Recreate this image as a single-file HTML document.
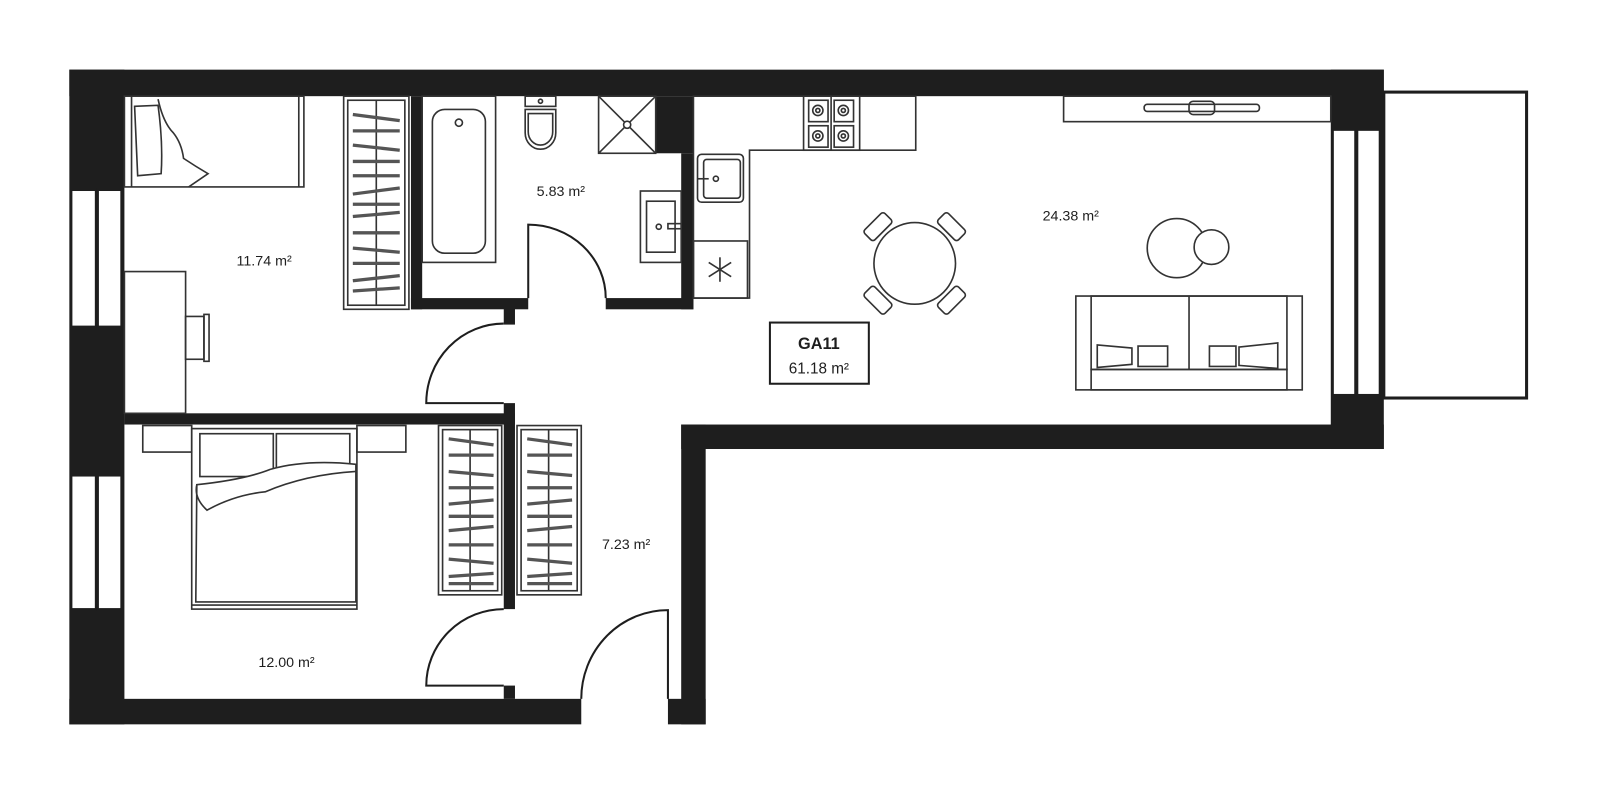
<!DOCTYPE html>
<html><head><meta charset="utf-8"><style>html,body{margin:0;padding:0;background:#fff}svg{display:block}</style></head>
<body>
<svg width="1600" height="794" viewBox="0 0 1569 778" xmlns="http://www.w3.org/2000/svg" font-family="Liberation Sans, sans-serif">
<rect width="1569" height="778" fill="#fff"/>
<g fill="#1e1e1e">
<rect x="68" y="68" width="1289" height="26"/>
<rect x="68" y="68" width="54" height="642"/>
<rect x="68" y="685" width="502" height="25"/>
<rect x="655" y="685" width="37" height="25"/>
<rect x="668" y="416" width="24" height="294"/>
<rect x="668" y="416" width="689" height="24"/>
<rect x="1305" y="68" width="52" height="372"/>
<rect x="122" y="405" width="383" height="11"/>
<rect x="494" y="300" width="11" height="18"/>
<rect x="494" y="395" width="11" height="202"/>
<rect x="494" y="672" width="11" height="13"/>
<rect x="403" y="292" width="115" height="11"/>
<rect x="594" y="292" width="86" height="11"/>
<rect x="403" y="94" width="11" height="209"/>
<rect x="668" y="150" width="12" height="153"/>
<rect x="643" y="94" width="37" height="56"/>
</g>
<!-- windows -->
<g fill="#fff" stroke="#1e1e1e" stroke-width="2">
<rect x="70" y="186" width="24" height="134"/><rect x="96" y="186" width="23" height="134"/>
<rect x="70" y="466" width="24" height="131"/><rect x="96" y="466" width="23" height="131"/>
<rect x="1307" y="127" width="22" height="260"/><rect x="1331" y="127" width="22" height="260"/>
</g>
<rect x="1357" y="90" width="140" height="300" fill="none" stroke="#1e1e1e" stroke-width="3"/>
<g fill="none" stroke="#1e1e1e" stroke-width="2">
<!-- doors -->
<path d="M518,292 V220 A76,72 0 0 1 594,292"/>
<path d="M494,395 H418 A76,78 0 0 1 494,317"/>
<path d="M494,672 H418 A76,75 0 0 1 494,597"/>
<path d="M655,685 V598 A85,87 0 0 0 570,685"/>
</g>
<g fill="none" stroke="#333" stroke-width="1.6">
<!-- bed 1 -->
<rect x="122" y="94" width="176" height="89"/>
<line x1="129" y1="94" x2="129" y2="183"/><line x1="293" y1="94" x2="293" y2="183"/>
<path d="M132,104 L155,103 Q160,140 158,170 L135,172 Z"/>
<path d="M155,97 Q160,120 170,130 Q178,140 180,155 Q192,163 204,170 L185,183"/>
<!-- desk -->
<rect x="122" y="266" width="60" height="139"/>
<rect x="182" y="310" width="18" height="42"/><rect x="200" y="308" width="5" height="46"/>
<!-- bath -->
<rect x="414" y="94" width="72" height="163"/>
<rect x="424" y="107" width="52" height="141" rx="12"/>
<circle cx="450" cy="120" r="3.5"/>
<!-- toilet -->
<rect x="515" y="94" width="30" height="10"/>
<circle cx="530" cy="99" r="2"/>
<path d="M515,107 H545 V130 A15,16 0 0 1 515,130 Z"/>
<path d="M518,111 H542 V129 A12,13 0 0 1 518,129 Z"/>
<!-- shower -->
<rect x="587" y="94" width="56" height="56"/>
<line x1="587" y1="94" x2="643" y2="150"/><line x1="643" y1="94" x2="587" y2="150"/>
<circle cx="615" cy="122" r="3.5" fill="#fff"/>
<!-- basin -->
<rect x="628" y="187" width="40" height="70"/>
<rect x="634" y="197" width="28" height="50"/>
<circle cx="646" cy="222" r="2.5"/><rect x="655" y="219" width="13" height="5"/>
<!-- kitchen -->
<path d="M680,94 H898 V147 H735 V292 H680 Z"/>
<rect x="788" y="94" width="55" height="53"/>
<line x1="815" y1="94" x2="815" y2="147"/>
<rect x="793" y="98" width="19" height="21"/><rect x="818" y="98" width="19" height="21"/>
<rect x="793" y="123" width="19" height="21"/><rect x="818" y="123" width="19" height="21"/>
<circle cx="802" cy="108" r="5"/><circle cx="827" cy="108" r="5"/><circle cx="802" cy="133" r="5"/><circle cx="827" cy="133" r="5"/>
<circle cx="802" cy="108" r="2"/><circle cx="827" cy="108" r="2"/><circle cx="802" cy="133" r="2"/><circle cx="827" cy="133" r="2"/>
<rect x="684" y="151" width="45" height="47" rx="4"/>
<rect x="690" y="156" width="36" height="38" rx="3"/>
<circle cx="702" cy="175" r="2.5"/><line x1="684" y1="175" x2="695" y2="175"/>
<rect x="680" y="236" width="53" height="56"/>
<g transform="translate(706,264)"><line x1="0" y1="-12" x2="0" y2="12"/><line x1="-11" y1="-7" x2="11" y2="7"/><line x1="-11" y1="7" x2="11" y2="-7"/></g>
<!-- TV -->
<rect x="1043" y="94" width="262" height="25"/>
<rect x="1122" y="102" width="113" height="7" rx="3"/>
<rect x="1166" y="99" width="25" height="13" rx="4"/>
<!-- table -->
<circle cx="897" cy="258" r="40"/>
<g transform="translate(897,258)">
<g transform="rotate(-45)"><rect x="-14" y="-58" width="28" height="14" rx="3"/></g>
<g transform="rotate(45)"><rect x="-14" y="-58" width="28" height="14" rx="3"/></g>
<g transform="rotate(135)"><rect x="-14" y="-58" width="28" height="14" rx="3"/></g>
<g transform="rotate(-135)"><rect x="-14" y="-58" width="28" height="14" rx="3"/></g>
</g>
<circle cx="1154" cy="243" r="29"/>
<circle cx="1188" cy="242" r="17" fill="#fff"/>
<!-- sofa -->
<rect x="1055" y="290" width="222" height="92"/>
<rect x="1070" y="290" width="192" height="72"/>
<line x1="1166" y1="290" x2="1166" y2="362"/>
<rect x="1070" y="362" width="192" height="20"/>
<path d="M1076,338 L1110,341 L1110,357 L1076,360 Z"/><path d="M1116,339 L1145,339 L1145,359 L1116,359 Z"/>
<path d="M1186,339 L1212,339 L1212,359 L1186,359 Z"/><path d="M1215,340 L1253,336 L1253,361 L1215,358 Z"/>
<!-- label box -->
<rect x="755" y="316" width="97" height="60" stroke="#1e1e1e" stroke-width="2"/>
<!-- bed 2 -->
<rect x="140" y="417" width="48" height="26"/><rect x="350" y="417" width="48" height="26"/>
<rect x="188" y="420" width="162" height="177"/>
<line x1="188" y1="593" x2="350" y2="593"/>
<rect x="196" y="425" width="72" height="42"/><rect x="271" y="425" width="72" height="42"/>
<path d="M193,475 Q240,470 265,460 Q300,450 349,455 L349,590 L192,590 Z" fill="#fff"/>
<path d="M193,475 Q190,488 203,500 Q230,485 260,482 Q300,465 349,462"/>
<!-- wardrobes -->
<rect x="337" y="94" width="64" height="209"/><rect x="341" y="98" width="56" height="201"/>
<line x1="369" y1="98" x2="369" y2="299"/>
<rect x="430" y="417" width="62" height="166"/><rect x="434" y="421" width="54" height="158"/>
<line x1="461" y1="421" x2="461" y2="579"/>
<rect x="507" y="417" width="63" height="166"/><rect x="511" y="421" width="55" height="158"/>
<line x1="538" y1="421" x2="538" y2="579"/>
</g>
<g stroke="#555" stroke-width="3.2">
<g id="h1">
<line x1="346" y1="112" x2="392" y2="118"/><line x1="346" y1="128" x2="392" y2="128"/><line x1="346" y1="142" x2="392" y2="147"/>
<line x1="346" y1="158" x2="392" y2="158"/><line x1="346" y1="172" x2="392" y2="172"/><line x1="346" y1="190" x2="392" y2="184"/>
<line x1="346" y1="200" x2="392" y2="200"/><line x1="346" y1="212" x2="392" y2="208"/><line x1="346" y1="228" x2="392" y2="228"/>
<line x1="346" y1="243" x2="392" y2="247"/><line x1="346" y1="258" x2="392" y2="258"/><line x1="346" y1="275" x2="392" y2="270"/>
<line x1="346" y1="285" x2="392" y2="282"/>
</g>
<line x1="440" y1="430" x2="484" y2="436"/><line x1="440" y1="446" x2="484" y2="446"/><line x1="440" y1="462" x2="484" y2="466"/>
<line x1="440" y1="478" x2="484" y2="478"/><line x1="440" y1="494" x2="484" y2="490"/><line x1="440" y1="506" x2="484" y2="506"/>
<line x1="440" y1="520" x2="484" y2="516"/><line x1="440" y1="534" x2="484" y2="534"/><line x1="440" y1="548" x2="484" y2="552"/>
<line x1="440" y1="565" x2="484" y2="562"/><line x1="440" y1="572" x2="484" y2="572"/>
<line x1="517" y1="430" x2="561" y2="436"/><line x1="517" y1="446" x2="561" y2="446"/><line x1="517" y1="462" x2="561" y2="466"/>
<line x1="517" y1="478" x2="561" y2="478"/><line x1="517" y1="494" x2="561" y2="490"/><line x1="517" y1="506" x2="561" y2="506"/>
<line x1="517" y1="520" x2="561" y2="516"/><line x1="517" y1="534" x2="561" y2="534"/><line x1="517" y1="548" x2="561" y2="552"/>
<line x1="517" y1="565" x2="561" y2="562"/><line x1="517" y1="572" x2="561" y2="572"/>
</g>
<g font-size="14" fill="#1e1e1e" text-anchor="middle">
<text x="259" y="260">11.74 m²</text>
<text x="550" y="192">5.83 m²</text>
<text x="281" y="654">12.00 m²</text>
<text x="614" y="538">7.23 m²</text>
<text x="1050" y="216">24.38 m²</text>
<text x="803" y="342" font-weight="bold" font-size="16">GA11</text>
<text x="803" y="366" font-size="15">61.18 m²</text>
</g>
</svg>
</body></html>
